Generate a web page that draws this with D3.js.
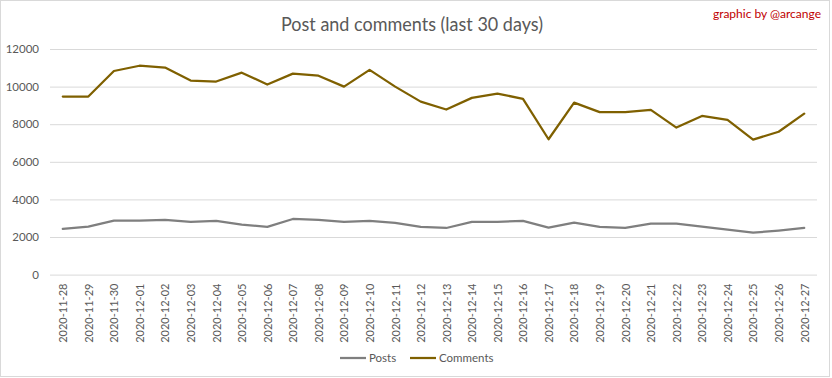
<!DOCTYPE html>
<html>
<head>
<meta charset="utf-8">
<script src="https://cdn.jsdelivr.net/npm/d3@7/dist/d3.min.js"></script>
<style>
  html, body { margin: 0; padding: 0; background: #ffffff; }
  svg { display: block; font-family: Lato, "Open Sans", sans-serif; }
</style>
</head>
<body>
<svg id="chart" width="832" height="378"></svg>
<script>
const dates = ["2020-11-28","2020-11-29","2020-11-30","2020-12-01","2020-12-02","2020-12-03","2020-12-04","2020-12-05","2020-12-06","2020-12-07","2020-12-08","2020-12-09","2020-12-10","2020-12-11","2020-12-12","2020-12-13","2020-12-14","2020-12-15","2020-12-16","2020-12-17","2020-12-18","2020-12-19","2020-12-20","2020-12-21","2020-12-22","2020-12-23","2020-12-24","2020-12-25","2020-12-26","2020-12-27"];
const posts = [2430,2550,2870,2870,2910,2800,2860,2660,2540,2960,2910,2800,2860,2750,2540,2480,2800,2800,2860,2500,2770,2540,2480,2710,2710,2550,2390,2230,2340,2480];
const comments = [9470,9470,10830,11110,11010,10320,10270,10740,10110,10690,10580,10000,10890,10000,9200,8780,9400,9630,9350,7200,9150,8640,8640,8760,7820,8440,8230,7180,7600,8560];
const yTicks = [0,2000,4000,6000,8000,10000,12000];
const seriesNames = ["Posts","Comments"];
const seriesColors = ["#7f7f7f","#7f6000"];
const titleText = "Post and comments (last 30 days)";
const creditText = "graphic by @arcange";

(function(){
const svg = d3.select("#chart");
const pLeft = 50, pRight = 817, pTop = 49, pBottom = 274.6;

svg.append("rect").attr("x",0.5).attr("y",0.5).attr("width",829).attr("height",376)
  .attr("fill","#fff").attr("stroke","#d9d9d9").attr("stroke-width",1);

const x = d3.scalePoint().domain(dates).range([pLeft,pRight]).padding(0.5);
const y = d3.scaleLinear().domain([0,12000]).range([pBottom,pTop]);

const yAxis = d3.axisLeft(y).tickValues(yTicks).tickSize(-(pRight-pLeft)).tickPadding(11).tickFormat(d3.format("d"));
const gy = svg.append("g").attr("transform",`translate(${pLeft},0)`).call(yAxis);
gy.select(".domain").remove();
gy.selectAll(".tick line").attr("stroke","#d9d9d9").attr("stroke-width",1);
gy.selectAll(".tick text").attr("fill","#595959").style("font-size","11.5px").style("font-family","Lato, sans-serif");

const xAxis = d3.axisBottom(x).tickSize(0).tickPadding(0);
const gx = svg.append("g").attr("transform",`translate(0,${pBottom})`).call(xAxis);
gx.select(".domain").remove();
gx.selectAll(".tick text")
  .attr("fill","#595959")
  .style("font-size","11px").style("font-family","Lato, sans-serif")
  .attr("text-anchor","end")
  .attr("transform","rotate(-90)")
  .attr("x",-9).attr("y",0).attr("dy","0.35em");

const line = d3.line().x((d,i)=>x(dates[i])).y(d=>y(d));
[posts, comments].forEach((s,k)=>{
  svg.append("path").datum(s).attr("d",line)
    .attr("fill","none").attr("stroke",seriesColors[k]).attr("stroke-width",2.25)
    .attr("stroke-linejoin","round").attr("stroke-linecap","round");
});

svg.append("text").attr("x",412).attr("y",31).attr("text-anchor","middle")
  .attr("fill","#595959").style("font-size","18.5px").style("font-family","Lato, sans-serif")
  .attr("textLength",262).attr("lengthAdjust","spacingAndGlyphs")
  .text(titleText);

svg.append("text").attr("x",821).attr("y",18).attr("text-anchor","end")
  .attr("fill","#c00000").style("font-size","12px").style("font-family","Lato, sans-serif")
  .text(creditText);

const legendX = [340,410];
seriesNames.forEach((n,k)=>{
  const g = svg.append("g").attr("transform",`translate(${legendX[k]},358)`);
  g.append("line").attr("x1",0).attr("x2",26).attr("y1",0).attr("y2",0)
    .attr("stroke",seriesColors[k]).attr("stroke-width",2.25);
  g.append("text").attr("x",29).attr("y",0).attr("dy","0.35em")
    .attr("fill","#595959").style("font-size","11.5px").style("font-family","Lato, sans-serif")
    .text(n);
});
})();
</script>
</body>
</html>
